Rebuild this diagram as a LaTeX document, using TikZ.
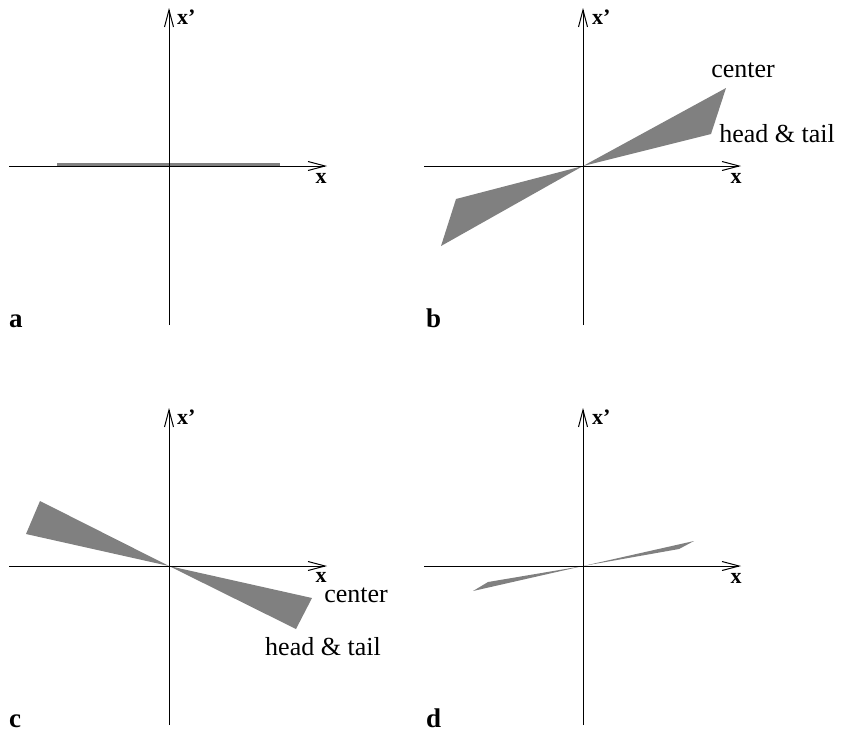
\documentclass[tikz,border=0pt]{standalone}
\usepackage{fontspec}
\setmainfont{Liberation Serif}
\usetikzlibrary{arrows.meta}
\begin{document}
\begin{tikzpicture}[x=1pt,y=-1pt,
  axis/.style={line width=1pt,-{Straight Barb[length=17pt,width=9pt,line width=1pt]}},
  wedge/.style={fill=gray,draw=none},
  bar/.style={line width=3.5pt,gray},
  axlbl/.style={font=\fontsize{22}{26}\selectfont\bfseries,inner sep=0pt},
  panlbl/.style={font=\fontsize{27}{32}\selectfont\bfseries,inner sep=0pt,anchor=base west},
  txt/.style={font=\fontsize{26}{30}\selectfont,inner sep=0pt}]
\useasboundingbox (0,0) rectangle (842,734);

% ---------- panel a ----------
\begin{scope}[shift={(169,166)}]
  \coordinate (aO) at (0,0);
  \coordinate (aL) at (-160,0); \coordinate (aR) at (158,0);
  \coordinate (aB) at (0,159);  \coordinate (aT) at (0,-158);
  \coordinate (aS1) at (-112,-1); \coordinate (aS2) at (111,-1);
  \draw[bar] (aS1) -- (aS2);
  \draw[axis] (aL) -- (aR);
  \draw[axis] (aB) -- (aT);
  \node[axlbl,anchor=west] (axpa) at (8,-149) {x’};
  \node[axlbl] (axa) at (152,12) {x};
\end{scope}
\node[panlbl] (la) at (9,327) {a};

% ---------- panel b ----------
\begin{scope}[shift={(583,166)}]
  \coordinate (bO) at (0,0);
  \coordinate (bL) at (-159,0); \coordinate (bR) at (158,0);
  \coordinate (bB) at (0,159);  \coordinate (bT) at (0,-158);
  \coordinate (bP1) at (143,-78); \coordinate (bP2) at (128,-32);
  \coordinate (bQ1) at (-127,33); \coordinate (bQ2) at (-142,80);
  \fill[wedge] (bO) -- (bP1) -- (bP2) -- cycle;
  \fill[wedge] (bO) -- (bQ1) -- (bQ2) -- cycle;
  \draw[axis] (bL) -- (bR);
  \draw[axis] (bB) -- (bT);
  \node[axlbl,anchor=west] (axpb) at (9,-149) {x’};
  \node[axlbl] (axb) at (153,12) {x};
  \node[txt] (cb) at (160,-96) {center};
  \node[txt] (hb) at (194,-32) {head \& tail};
\end{scope}
\node[panlbl] (lb) at (426,327) {b};

% ---------- panel c ----------
\begin{scope}[shift={(169,566)}]
  \coordinate (cO) at (0,0);
  \coordinate (cL) at (-160,0); \coordinate (cR) at (158,0);
  \coordinate (cB) at (0,159);  \coordinate (cT) at (0,-158);
  \coordinate (cP1) at (-129,-65); \coordinate (cP2) at (-143,-32);
  \coordinate (cQ1) at (143,32); \coordinate (cQ2) at (127,63);
  \fill[wedge] (cO) -- (cP1) -- (cP2) -- cycle;
  \fill[wedge] (cO) -- (cQ1) -- (cQ2) -- cycle;
  \draw[axis] (cL) -- (cR);
  \draw[axis] (cB) -- (cT);
  \node[axlbl,anchor=west] (axpc) at (8,-149) {x’};
  \node[axlbl] (axc) at (152,11) {x};
  \node[txt] (cc) at (187,29) {center};
  \node[txt] (hc) at (154,81) {head \& tail};
\end{scope}
\node[panlbl] (lc) at (9,727) {c};

% ---------- panel d ----------
\begin{scope}[shift={(583,566)}]
  \coordinate (dO) at (0,0);
  \coordinate (dL) at (-159,0); \coordinate (dR) at (158,0);
  \coordinate (dB) at (0,159);  \coordinate (dT) at (0,-158);
  \coordinate (dP1) at (111,-25); \coordinate (dP2) at (96,-17);
  \coordinate (dQ1) at (-95,16); \coordinate (dQ2) at (-110,25);
  \fill[wedge] (dO) -- (dP1) -- (dP2) -- cycle;
  \fill[wedge] (dO) -- (dQ1) -- (dQ2) -- cycle;
  \draw[axis] (dL) -- (dR);
  \draw[axis] (dB) -- (dT);
  \node[axlbl,anchor=west] (axpd) at (9,-149) {x’};
  \node[axlbl] (axd) at (153,12) {x};
\end{scope}
\node[panlbl] (ld) at (426,727) {d};
\end{tikzpicture}
\end{document}
